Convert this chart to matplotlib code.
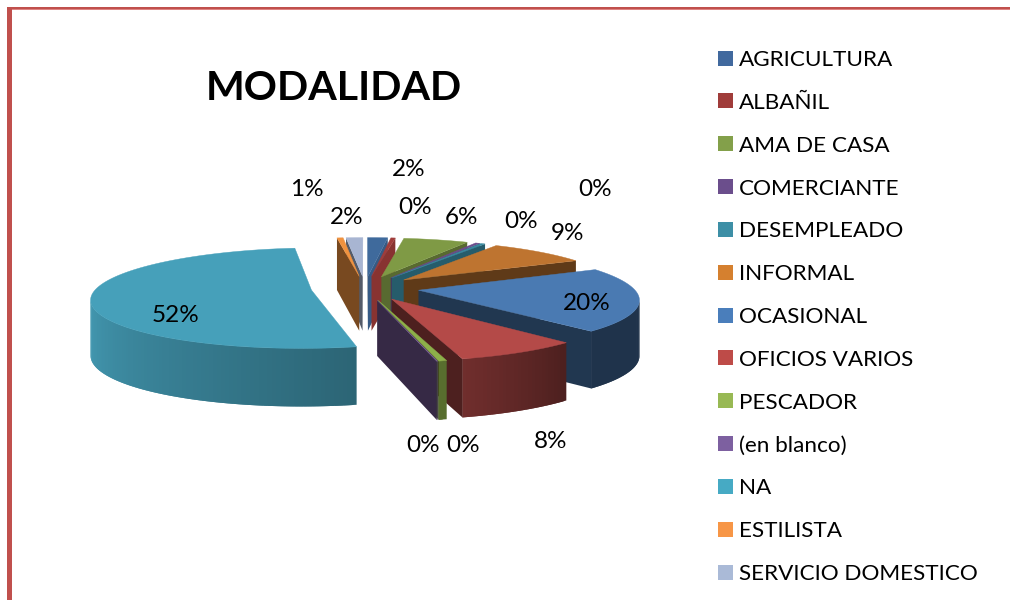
import numpy as np
import matplotlib
matplotlib.use('Agg')
import matplotlib.pyplot as plt
from matplotlib.patches import Polygon, Rectangle

plt.rcParams['font.family'] = ['Lato', 'DejaVu Sans']

title = 'MODALIDAD'
categories = ['AGRICULTURA', 'ALBAÑIL', 'AMA DE CASA', 'COMERCIANTE', 'DESEMPLEADO', 'INFORMAL',
              'OCASIONAL', 'OFICIOS VARIOS', 'PESCADOR', '(en blanco)', 'NA', 'ESTILISTA',
              'SERVICIO DOMESTICO']
values = [1.8, 0.4, 5.8, 0.4, 0.4, 8.8, 20.7, 7.8, 0.5, 0.05, 51.5, 0.55, 1.5]
pct_labels = ['2%', '0%', '6%', '0%', '0%', '9%', '20%', '8%', '0%', '0%', '52%', '1%', '2%']
colors = ['#3F6A9C', '#A03C3A', '#7F9A45', '#6A4C8C', '#38899F', '#BE7430',
          '#4A7AB2', '#B44A48', '#8DB04A', '#7D60A0', '#46A0BA', '#F0923F', '#A8B5D2']
legend_colors = ['#41699E', '#A03C3A', '#83A04A', '#6B4E8C', '#3D8FA6', '#D5802F',
                 '#4A7EBB', '#BE4B48', '#98B954', '#7D60A0', '#46AAC4', '#F79646', '#AABAD7']

# where the data labels sit, in picture pixels
label_x = [409, 415, 461, 521, 595, 567, 587, 551, 463, 423, 176, 307, 347]
label_y = [169, 208, 218, 222, 190, 233, 304, 442, 446, 446, 316, 190, 218]

# fake 3d projection of the exploded pie
CX, CY = 365, 288
R = 215
EXPLODE = 0.251
SQUASH = 48.3
PERSP = 0.159
DEPTH = 55


def project(x, z):
    s = 1 / (1 - PERSP * z)
    return CX + R * x * s, CY + SQUASH * z * s, DEPTH * s ** 0.3


def shade(c, f):
    return tuple(np.array(matplotlib.colors.to_rgb(c)) * f)


def draw_slice(ax, a0, a1, color):
    mid = (a0 + a1) / 2
    ox, oz = EXPLODE * np.sin(mid), -EXPLODE * np.cos(mid)
    ang = np.linspace(a0, a1, max(2, int(np.degrees(a1 - a0) / 1.0) + 2))
    xs = np.r_[ox, ox + np.sin(ang)]
    zs = np.r_[oz, oz - np.cos(ang)]
    px, py, d = project(xs, zs)
    n = len(px)
    zo = 10 + oz

    def quad(i, j, c):
        ax.add_patch(Polygon([(px[i], py[i]), (px[j], py[j]), (px[j], py[j] + d[j]), (px[i], py[i] + d[i])],
                             facecolor=c, edgecolor='none', lw=0, zorder=zo))

    # top edge runs clockwise on screen, a side is seen when its edge goes right to left
    for i in range(1, n - 1):
        if px[i + 1] < px[i]:
            deg = np.degrees((ang[i - 1] + ang[i]) / 2)
            # strips overlap the next one so no seams show
            quad(i, min(i + 2, n - 1), shade(color, np.interp(deg, [90, 137, 165, 270], [0.42, 0.42, 0.62, 1.0])))
    if px[1] < px[0]:
        quad(0, 1, shade(color, 0.5))
    if px[0] < px[n - 1]:
        deg1 = np.degrees(a1)
        quad(n - 1, 0, shade(color, np.interp(deg1, [0, 10, 30, 60, 180], [0.85, 0.85, 0.68, 0.5, 0.42])))
    ax.add_patch(Polygon(np.c_[px, py], facecolor=color, edgecolor=color, lw=0.3, zorder=zo + 0.001))


fig = plt.figure(figsize=(10.1, 6.0), dpi=100)
ax = fig.add_axes([0, 0, 1, 1])
ax.set_xlim(0, 1010)
ax.set_ylim(600, 0)
ax.axis('off')

# frame of the pasted chart
ax.add_patch(Rectangle((6.5, 7), 5.5, 593, facecolor='#C0504D', edgecolor='none', zorder=1))
ax.add_patch(Rectangle((6.5, 7), 1003.5, 2.2, facecolor='#C0504D', edgecolor='none', zorder=1))
ax.add_patch(Rectangle((12, 9.2), 998, 1, facecolor='#DE8583', edgecolor='none', zorder=1))

edges = np.r_[0, np.cumsum(values)] / np.sum(values) * 2 * np.pi
for i in range(len(values)):
    draw_slice(ax, edges[i], edges[i + 1], colors[i])

for i in range(len(values)):
    ax.text(label_x[i], label_y[i], pct_labels[i], fontsize=17.5, color='black',
            ha='center', va='center', zorder=30)

ax.text(333.5, 89, title, fontsize=29.6, fontweight='bold', ha='center', va='center', color='black')

for i, name in enumerate(categories):
    y = 58 + i * 42.85
    ax.add_patch(Rectangle((718, y - 7.5), 15, 15, facecolor=legend_colors[i], edgecolor='none'))
    ax.text(739, y + 2, name, fontsize=16.2, va='center', ha='left', color='black')

fig.savefig('out.png', dpi=100)
